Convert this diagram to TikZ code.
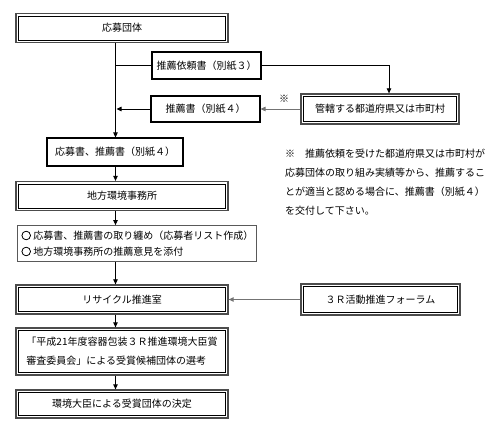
\documentclass[tikz,border=0pt]{standalone}
\usepackage{fontspec}
\setmainfont{Noto Sans CJK JP}
\newfontfamily\jpbold[FakeBold=3]{Noto Sans CJK JP}
\usetikzlibrary{arrows.meta}
\tikzset{
  dbl/.style={draw=black!70, line width=1.3pt, inner sep=0pt,
    path picture={\draw[black,line width=0.5pt]
      ([shift={(2.3pt,-2.3pt)}]path picture bounding box.north west) rectangle
      ([shift={(-2.3pt,2.3pt)}]path picture bounding box.south east);}},
  sgl/.style={draw=black, line width=1.1pt, inner sep=0pt},
  lst/.style={draw=black!65, line width=0.8pt, inner sep=0pt},
  conn/.style={draw=black, line width=0.8pt},
  gconn/.style={draw=black!55, line width=0.9pt},
  tip/.style={-{Triangle[length=5pt,width=4.5pt]}},
}
\begin{document}
\begin{tikzpicture}[x=1pt,y=-1pt,font=\fontsize{10}{19}\selectfont]
\useasboundingbox (0,0) rectangle (500,435);
\coordinate (t) at (115.5,0);
% main column
\node[dbl, minimum width=212pt, minimum height=29pt] (A) at (122,28) {応募団体};
\node[sgl, minimum width=109pt, minimum height=27pt] (B) at (206.5,65.5) {推薦依頼書（別紙３）};
\node[sgl, minimum width=109pt, minimum height=26pt] (C) at (205.5,109) {推薦書（別紙４）};
\node[dbl, minimum width=158pt, minimum height=30pt] (K) at (380,109) {管轄する都道府県又は市町村};
\node[sgl, minimum width=136pt, minimum height=28pt] (D) at (115,152) {応募書、推薦書（別紙４）};
\node[dbl, minimum width=212pt, minimum height=29pt] (E) at (122,196) {地方環境事務所};
\node[lst, minimum width=239pt, minimum height=36pt] (F) at (136.5,243.5) {};
\node[anchor=west, inner sep=0pt] (F1) at (21,235.5) {{\jpbold ○} 応募書、推薦書の取り纏め（応募者リスト作成）};
\node[anchor=west, inner sep=0pt] (F2) at (21,251.5) {{\jpbold ○} 地方環境事務所の推薦意見を添付};
\node[dbl, minimum width=212pt, minimum height=29pt] (G) at (122,299.5) {リサイクル推進室};
\node[dbl, minimum width=212pt, minimum height=47pt, align=left] (H) at (122,351.5)
  {「平成21年度容器包装３Ｒ推進環境大臣賞\\審査委員会」による受賞候補団体の選考};
\node[dbl, minimum width=212pt, minimum height=28pt] (I) at (122,404) {環境大臣による受賞団体の決定};
\node[dbl, minimum width=159pt, minimum height=31pt] (J) at (380.5,299.5) {３Ｒ活動推進フォーラム};
% note
\node[inner sep=0pt] (S) at (284,99) {※};
\node[anchor=west, inner sep=0pt] (N1) at (285,154) {※　推薦依頼を受けた都道府県又は市町村が};
\node[anchor=west, inner sep=0pt] (N2) at (285,173) {応募団体の取り組み実績等から、推薦するこ};
\node[anchor=west, inner sep=0pt] (N3) at (285,192) {とが適当と認める場合に、推薦書（別紙４）};
\node[anchor=west, inner sep=0pt] (N4) at (285,211) {を交付して下さい。};
% connectors
\draw[conn,tip] (A.south -| t) -- (D.north -| t);
\draw[conn] (B.west -| t) -- (B.west);
\draw[conn,tip] (C.west) -- ([xshift=1pt]C.west -| t);
\draw[conn,tip] (B.east) -| ([xshift=9pt]K.north);
\draw[gconn,tip] (K.west) -- (C.east);
\draw[conn,tip] (D.south -| t) -- (E.north -| t);
\draw[conn,tip] (E.south -| t) -- (F.north -| t);
\draw[conn,tip] (F.south -| t) -- (G.north -| t);
\draw[conn,tip] (G.south -| t) -- (H.north -| t);
\draw[conn,tip] (H.south -| t) -- (I.north -| t);
\draw[gconn,tip] (J.west) -- (G.east);
\end{tikzpicture}
\end{document}
